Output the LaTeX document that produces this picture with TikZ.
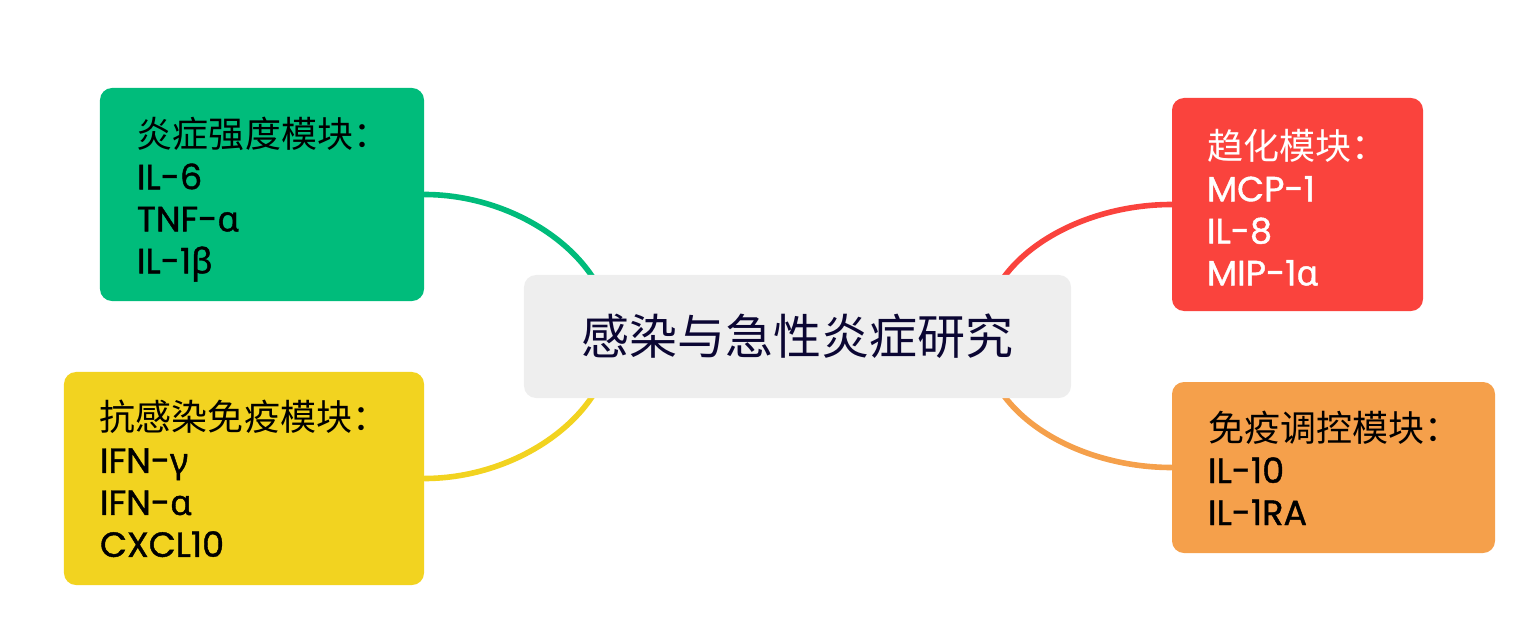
\documentclass[tikz,border=0pt]{standalone}
\usepackage{fontspec}
\setmainfont{Poppins}[FakeBold=1.2]
\newfontfamily\cjk{Noto Sans CJK SC}
\newfontfamily\grk{Noto Sans}[FakeBold=1.2]
\usetikzlibrary{backgrounds,calc}
\definecolor{cgreen}{HTML}{00BC7B}
\definecolor{cyellow}{HTML}{F2D320}
\definecolor{cred}{HTML}{FA433D}
\definecolor{corange}{HTML}{F5A04B}
\definecolor{cgrey}{HTML}{EEEEEE}
\definecolor{cnavy}{HTML}{0B0633}
\newcommand{\hdr}[2]{\rule{0pt}{#1}{\cjk\fontsize{18bp}{21bp}\selectfont #2}}
\begin{document}
\begin{tikzpicture}[x=0.5bp,y=-0.5bp,
  mbox/.style={rounded corners=6bp, draw=none, align=left, inner ysep=0pt,
    font=\fontsize{17.5bp}{21bp}\selectfont, text=black},
  rootbox/.style={rounded corners=6bp, draw=none, fill=cgrey, text=cnavy,
    font=\cjk\fontsize{24bp}{28bp}\selectfont, minimum width=273.5bp, minimum height=61.5bp},
  conn/.style={line width=2.8bp, line cap=round}]
\useasboundingbox (0,0) rectangle (1534,643);

\node[rootbox] (c) at (797.5,336.5) {感染与急性炎症研究};

\node[mbox, fill=cgreen, inner xsep=18.5bp, text width=125bp, minimum height=106.5bp] (g) at (262,194.5)
  {\hdr{20bp}{炎症强度模块：}\\IL-6\\TNF-{\grk α}\\IL-1{\grk β}};
\node[mbox, fill=cyellow, inner xsep=18bp, text width=144bp, minimum height=106.5bp] (y) at (244,478.5)
  {\hdr{15.5bp}{抗感染免疫模块：}\\IFN-{\grk γ}\\IFN-{\grk α}\\CXCL10};
\node[mbox, fill=cred, text=white, inner xsep=17.5bp, text width=90.5bp, minimum height=106.5bp] (r) at (1297.5,204.5)
  {\hdr{18bp}{趋化模块：}\\MCP-1\\IL-8\\MIP-1{\grk α}};
\node[mbox, fill=corange, inner xsep=18bp, text width=125.5bp, minimum height=85.5bp] (o) at (1333.5,467.5)
  {\hdr{15.5bp}{免疫调控模块：}\\IL-10\\IL-1RA};

\begin{pgfonlayer}{background}
\draw[conn, cgreen] (g.east) .. controls ($(g.east)+(96,0)$) and ($(c.west)+(88,-76)$) .. ($(c.west)+(88,0)$);
\draw[conn, cyellow] (y.east) .. controls ($(y.east)+(96,0)$) and ($(c.west)+(88,76)$) .. ($(c.west)+(88,0)$);
\draw[conn, cred] (r.west) .. controls ($(r.west)+(-96,0)$) and ($(c.east)+(-88,-76)$) .. ($(c.east)+(-88,0)$);
\draw[conn, corange] (o.west) .. controls ($(o.west)+(-96,0)$) and ($(c.east)+(-88,76)$) .. ($(c.east)+(-88,0)$);
\end{pgfonlayer}
\end{tikzpicture}
\end{document}
